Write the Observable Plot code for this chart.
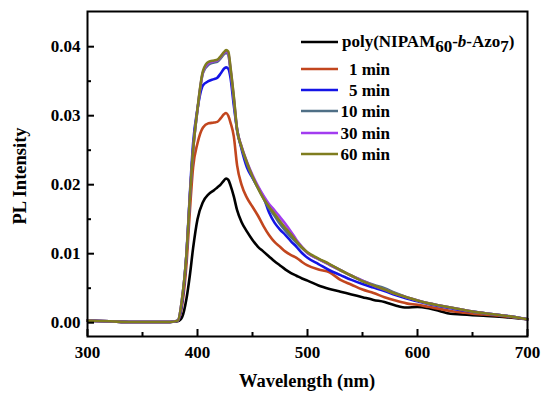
<!DOCTYPE html>
<html>
<head>
<meta charset="utf-8">
<script src="https://cdn.jsdelivr.net/npm/d3@7"></script>
<script src="https://cdn.jsdelivr.net/npm/@observablehq/plot@0.6"></script>
<style>
  html, body { margin: 0; padding: 0; background: #fff; }
</style>
</head>
<body>
<div id="chart"></div>
<script>
const wavelength = [300,320,340,360,375,382,386,390,393,396,400,405,410,415,418,421,424,426,428,430,433,436,440,445,450,455,460,465,470,475,480,485,490,495,500,510,520,530,540,550,560,570,580,590,600,610,620,630,640,650,660,680,700];

const polyBlock = [0.0003,0.0002,0.0001,0.0001,0.0001,0.0002,0.0008,0.0035,0.0068,0.0108,0.0150,0.0175,0.0186,0.0192,0.0196,0.0200,0.0206,0.0209,0.0207,0.0199,0.0183,0.0163,0.0146,0.0132,0.0120,0.0110,0.0103,0.0096,0.0089,0.0083,0.0077,0.0072,0.0068,0.0064,0.0061,0.0054,0.0049,0.0045,0.0041,0.0037,0.0033,0.0030,0.0025,0.0022,0.0023,0.0021,0.0017,0.0013,0.0012,0.0011,0.0010,0.0008,0.0005];
const min1 = [0.0003,0.0002,0.0001,0.0001,0.0001,0.0003,0.0025,0.0085,0.0160,0.0225,0.0260,0.0283,0.0289,0.0290,0.0291,0.0296,0.0302,0.0304,0.0300,0.0290,0.0270,0.0228,0.0200,0.0181,0.0168,0.0155,0.0140,0.0127,0.0117,0.0110,0.0103,0.0098,0.0094,0.0088,0.0083,0.0077,0.0073,0.0062,0.0055,0.0048,0.0043,0.0037,0.0032,0.0028,0.0026,0.0023,0.0020,0.0017,0.0015,0.0013,0.0012,0.0009,0.0005];
const min5 = [0.0003,0.0002,0.0001,0.0001,0.0001,0.0003,0.0030,0.0100,0.0185,0.0260,0.0310,0.0344,0.0350,0.0353,0.0355,0.0361,0.0368,0.0370,0.0368,0.0355,0.0315,0.0280,0.0252,0.0225,0.0210,0.0196,0.0182,0.0160,0.0145,0.0135,0.0127,0.0118,0.0110,0.0101,0.0094,0.0085,0.0076,0.0069,0.0062,0.0056,0.0051,0.0046,0.0040,0.0035,0.0031,0.0027,0.0024,0.0021,0.0018,0.0016,0.0014,0.0010,0.0005];
const min10 = [0.0003,0.0002,0.0001,0.0001,0.0001,0.0003,0.0035,0.0100,0.0180,0.0250,0.0308,0.0362,0.0374,0.0377,0.0378,0.0383,0.0389,0.0391,0.0388,0.0365,0.0323,0.0278,0.0254,0.0230,0.0211,0.0195,0.0180,0.0166,0.0155,0.0143,0.0133,0.0124,0.0116,0.0108,0.0101,0.0092,0.0084,0.0076,0.0068,0.0061,0.0055,0.0050,0.0043,0.0037,0.0032,0.0028,0.0025,0.0022,0.0019,0.0016,0.0014,0.0010,0.0005];
const min30 = [0.0003,0.0002,0.0001,0.0001,0.0001,0.0003,0.0035,0.0100,0.0180,0.0250,0.0309,0.0363,0.0376,0.0379,0.0380,0.0385,0.0391,0.0393,0.0390,0.0368,0.0326,0.0280,0.0256,0.0233,0.0214,0.0198,0.0184,0.0172,0.0163,0.0153,0.0143,0.0132,0.0120,0.0110,0.0101,0.0092,0.0084,0.0076,0.0068,0.0061,0.0054,0.0048,0.0042,0.0037,0.0032,0.0028,0.0025,0.0022,0.0019,0.0016,0.0014,0.0010,0.0005];
const min60 = [0.0003,0.0002,0.0001,0.0001,0.0001,0.0003,0.0035,0.0100,0.0180,0.0250,0.0310,0.0365,0.0378,0.0380,0.0381,0.0386,0.0392,0.0395,0.0393,0.0370,0.0328,0.0280,0.0255,0.0232,0.0212,0.0195,0.0180,0.0168,0.0158,0.0147,0.0137,0.0128,0.0118,0.0109,0.0102,0.0093,0.0085,0.0076,0.0068,0.0060,0.0054,0.0048,0.0042,0.0037,0.0032,0.0028,0.0025,0.0022,0.0019,0.0016,0.0014,0.0010,0.0005];

const seriesNames = ["poly", "1 min", "5 min", "10 min", "30 min", "60 min"];
const seriesValues = [polyBlock, min1, min5, min10, min30, min60];
const seriesColors = ["#000000", "#c2461e", "#1414e6", "#4f6f86", "#a23cf0", "#7f7d1f"];

const xTicks = [300, 400, 500, 600, 700];
const xMinor = [350, 450, 550, 650];
const yTicks = [0.00, 0.01, 0.02, 0.03, 0.04];
const yMinor = [0.005, 0.015, 0.025, 0.035];

const rows = [];
seriesNames.forEach((name, i) => {
  wavelength.forEach((w, j) => rows.push({series: name, w, v: seriesValues[i][j]}));
});

const FONT = "Liberation Serif, DejaVu Serif, Noto Serif, serif";
const W = 550, H = 399;
const chart = Plot.plot({
  width: W, height: H,
  marginLeft: 87, marginRight: 23, marginTop: 11, marginBottom: 63,
  style: {fontFamily: FONT, fontSize: "17px", fontWeight: "bold", background: "#fff", color: "#000"},
  x: {domain: [300, 700]},
  y: {domain: [-0.002, 0.0451]},
  color: {domain: seriesNames, range: seriesColors},
  marks: [
    Plot.line(rows, {x: "w", y: "v", z: "series", stroke: "series", strokeWidth: 2.6, curve: "monotone-x"}),
    Plot.frame({stroke: "#000", strokeWidth: 2}),
    Plot.axisX({ticks: xTicks, tickSize: 0, tickPadding: 9, tickFormat: d => String(d), fontSize: 17, fontFamily: FONT, fontWeight: "bold", label: null}),
    Plot.axisX({ticks: xTicks, tickSize: -7, strokeWidth: 2, text: null, label: null}),
    Plot.axisX({ticks: xMinor, tickSize: -4, strokeWidth: 2, text: null, label: null}),
    Plot.axisY({ticks: yTicks, tickSize: 0, tickPadding: 7, tickFormat: d => d.toFixed(2), fontSize: 17, fontFamily: FONT, fontWeight: "bold", label: null}),
    Plot.axisY({ticks: yTicks, tickSize: -7, strokeWidth: 2, text: null, label: null}),
    Plot.axisY({ticks: yMinor, tickSize: -4, strokeWidth: 2, text: null, label: null})
  ]
});
document.getElementById("chart").appendChild(chart);

const svg = d3.select(chart);
svg.append("text")
  .attr("transform", "translate(26,176) rotate(-90)")
  .attr("text-anchor", "middle")
  .attr("font-family", FONT)
  .attr("font-size", 18.5).attr("font-weight", "bold").attr("fill", "#000")
  .text("PL Intensity");
svg.append("text")
  .attr("x", 307).attr("y", 387)
  .attr("text-anchor", "middle")
  .attr("font-family", FONT)
  .attr("font-size", 18.5).attr("font-weight", "bold").attr("fill", "#000")
  .text("Wavelength (nm)");

const legendY = [42, 69, 90, 111, 133, 154];
const lg = svg.append("g").attr("font-size", 17).attr("font-weight", "bold").attr("font-family", FONT).attr("fill", "#000");
seriesNames.forEach((name, i) => {
  lg.append("line").attr("x1", 301).attr("x2", 338).attr("y1", legendY[i]).attr("y2", legendY[i])
    .attr("stroke", seriesColors[i]).attr("stroke-width", 2.6);
  if (i === 0) {
    const t = lg.append("text").attr("x", 342).attr("y", legendY[i] + 5).attr("text-anchor", "start");
    t.append("tspan").text("poly(NIPAM");
    t.append("tspan").attr("dy", 5).text("60");
    t.append("tspan").attr("dy", -5).text("-");
    t.append("tspan").attr("font-style", "italic").text("b");
    t.append("tspan").text("-Azo");
    t.append("tspan").attr("dy", 5).text("7");
    t.append("tspan").attr("dy", -5).text(")");
  } else {
    lg.append("text").attr("x", 390).attr("y", legendY[i] + 6).attr("text-anchor", "end").text(name);
  }
});
</script>
</body>
</html>
